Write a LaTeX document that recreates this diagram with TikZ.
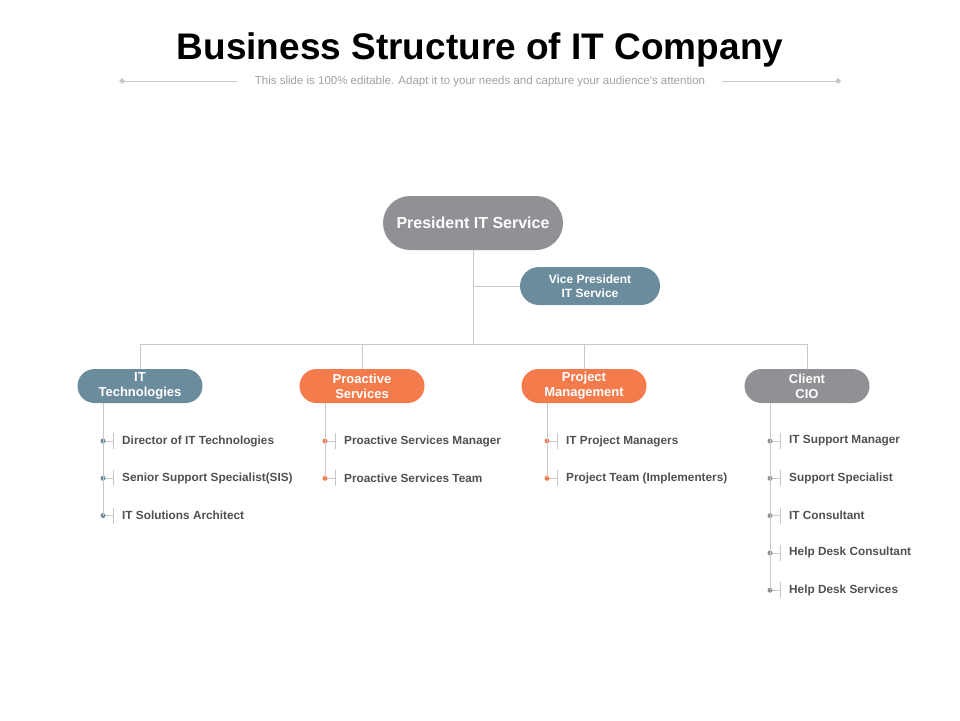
\documentclass[tikz,border=0pt]{standalone}
\usepackage{fontspec}
\setmainfont{Liberation Sans}
\usetikzlibrary{positioning}
\definecolor{slate}{HTML}{6A8C9C}
\definecolor{coral}{HTML}{F47B4C}
\definecolor{ash}{HTML}{909095}
\definecolor{wire}{HTML}{C8C8C8}
\definecolor{itemtext}{HTML}{505050}
\begin{document}
\begin{tikzpicture}[x=1pt,y=-1pt]
\tikzset{
  unit/.style={rectangle, rounded corners=17pt, minimum width=125pt, minimum height=34pt, text=white, font=\bfseries\fontsize{13}{15}\selectfont, align=center, inner sep=0pt},
  link/.style={draw=wire, line width=0.6pt},
  item/.style={anchor=west, text=itemtext, font=\bfseries\fontsize{11.8}{13}\selectfont, inner sep=0pt},
  dotpin/.style={circle, fill=#1, inner sep=0pt, minimum size=5pt}
}
\useasboundingbox (0,0) rectangle (960,720);
% title
\node (title) at (480,50) {\bfseries\fontsize{37}{40}\selectfont Business Structure of IT Company};
\node[text=wire!80!black, font=\fontsize{11.5}{12}\selectfont] (sub) at (480,82) {This slide is 100\% editable. Adapt it to your needs and capture your audience's attention};
\coordinate (sl) at (122,81); \coordinate (sr) at (838,81);
\draw[link] (sl) -- (237,81) (722,81) -- (sr);
\fill[wire] (sl) +(-3,0) -- +(0,-3) -- +(3,0) -- +(0,3) -- cycle;
\fill[wire] (sr) +(-3,0) -- +(0,-3) -- +(3,0) -- +(0,3) -- cycle;
% top
\node[unit, fill=ash, rounded corners=27pt, minimum width=180pt, minimum height=54pt, font=\bfseries\fontsize{16}{18}\selectfont] (pres) at (473,223) {President IT Service};
\node[unit, fill=slate, rounded corners=19pt, minimum width=140pt, minimum height=38pt, font=\bfseries\fontsize{12}{14}\selectfont] (vp) at (590,286) {Vice President\\IT Service};
\coordinate (hub) at (473,344);
\draw[link] (pres) -- (hub);
\draw[link] (473,286) -- (vp);
% units
\node[unit, fill=slate] (tech) at (140,386) {IT\\Technologies};
\node[unit, fill=coral] (pro) at (362,386) {Proactive\\Services};
\node[unit, fill=coral] (pm) at (584,386) {Project\\Management};
\node[unit, fill=ash] (cio) at (807,386) {Client\\CIO};
\draw[link] (140,344) -- (807,344);
\foreach \u in {tech,pro,pm,cio}
  \draw[link] (\u.north |- hub) -- (\u);
% lists
\foreach \u/\x/\c/\list in {
  tech/140/slate/{Director of IT Technologies,Senior Support Specialist(SIS),IT Solutions Architect},
  pro/362/coral/{Proactive Services Manager,Proactive Services Team},
  pm/584/coral/{IT Project Managers,Project Team (Implementers)},
  cio/807/ash/{IT Support Manager,Support Specialist,IT Consultant,Help Desk Consultant,Help Desk Services}} {
  \foreach \t [count=\i] in \list {
    \coordinate (\u-p\i) at ({\x-37},{441+37.3*(\i-1)});
    \draw[link] (\u-p\i) -- ++(10,0) ++(0,-8) -- ++(0,16);
    \node[dotpin=\c] (\u-d\i) at (\u-p\i) {};
    \node[item] (\u-t\i) at ([xshift=19pt]\u-p\i) {\t};
    \xdef\last{\i}
  }
  \draw[link] ([xshift=-37pt]\u.south) -- (\u-p\last);
}
\end{tikzpicture}
\end{document}
